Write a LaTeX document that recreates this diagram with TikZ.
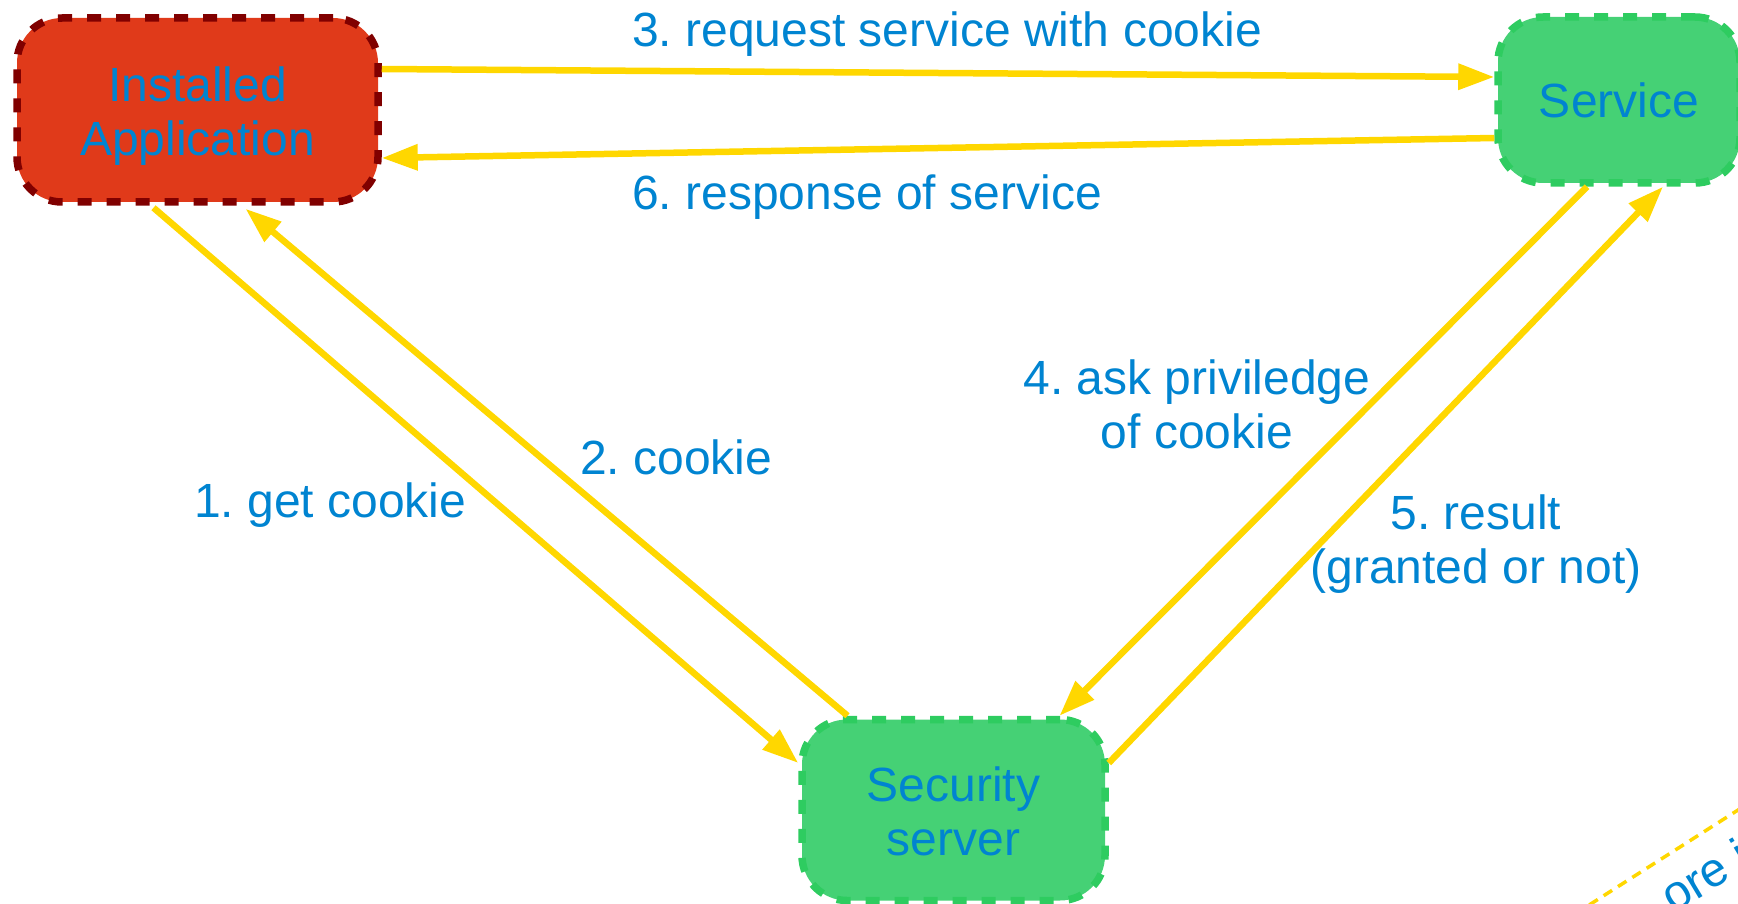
\documentclass[tikz,border=0pt]{standalone}
\usepackage{fontspec}
\setmainfont{Liberation Sans}
\usetikzlibrary{arrows.meta,calc}

\definecolor{txtblue}{RGB}{0,132,209}
\definecolor{flowyellow}{RGB}{255,215,0}
\definecolor{appred}{RGB}{224,58,26}
\definecolor{appborder}{RGB}{128,0,0}
\definecolor{srvgreen}{RGB}{69,209,117}
\definecolor{srvborder}{RGB}{46,204,96}

\newcommand\diagfont{\fontsize{48}{54}\selectfont}
\frenchspacing

\begin{document}
\begin{tikzpicture}[x=1pt,y=-1pt,
  box/.style={rectangle, rounded corners=45pt, line width=7.5pt,
    dash pattern=on 14pt off 15pt, inner sep=0pt, align=center,
    text=txtblue, font=\diagfont},
  appbox/.style={box, fill=appred, draw=appborder},
  srvbox/.style={box, fill=srvgreen, draw=srvborder},
  flow/.style={draw=flowyellow, line width=6.5pt,
    -{Triangle[length=36pt,width=25pt]}},
  lbl/.style={text=txtblue, font=\diagfont, inner sep=0pt, align=center}]

\useasboundingbox (0,0) rectangle (1738,904);

% components (the node base is the baseline of the last text line)
\node[appbox, minimum width=361pt, minimum height=184pt,
      text height=94pt, text depth=2.6pt] (app) at (197.5,110)
      {Installed\\Application};
\node[srvbox, minimum width=242pt, minimum height=166pt,
      text height=40pt, text depth=4pt] (svc) at (1619,100) {Service};
\node[srvbox, minimum width=303pt, minimum height=181pt,
      text height=94pt, text depth=4pt] (sec) at (953.5,810)
      {Security\\server};

% message flows
\draw[flow] ($(app.east)+(0,-41)$) -- ($(svc.west)+(0,-23)$);
\draw[flow] ($(svc.west)+(0,38)$) -- ($(app.east)+(0,48)$);
\draw[flow] ($(app.south)+(-44,2)$) -- ($(sec.west)+(0,-47)$);
\draw[flow] ($(sec.north)+(-106,0)$) -- ($(app.south)+(48,3)$);
\draw[flow] ($(svc.south)+(-32,0)$) -- ($(sec.north)+(106,0)$);
\draw[flow] ($(sec.east)+(0,-47)$) -- ($(svc.south)+(44,0)$);

% flow labels
\node[lbl, anchor=base west] (l3) at (632,47) {3. request service with cookie};
\node[lbl, anchor=base west] (l6) at (632,210) {6. response of service};
\node[lbl, anchor=base west] (l1) at (194,517) {1. get cookie};
\node[lbl, anchor=base west] (l2) at (580,474) {2. cookie};
\node[lbl, anchor=base] (l4) at (1197,448) {4. ask priviledge\\of cookie};
\node[lbl, anchor=base] (l5) at (1476,583) {5. result\\(granted or not)};

% note in the lower right corner
\draw[flowyellow, line width=3.5pt, dash pattern=on 10pt off 7pt]
  (1575,914) -- (1760,796);
\node[lbl, anchor=base west, rotate=31] (note) at (1673,914) {ore is};
\end{tikzpicture}
\end{document}
